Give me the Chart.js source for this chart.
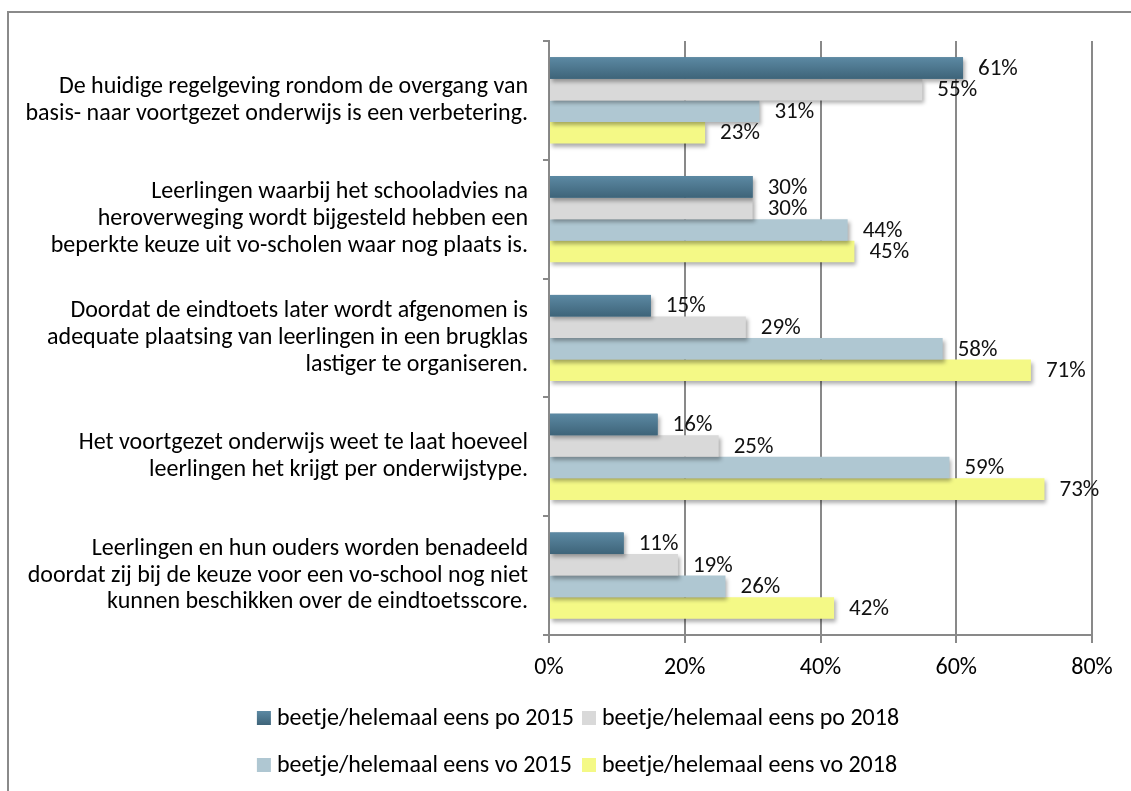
<!DOCTYPE html>
<html>
<head>
<meta charset="utf-8">
<script src="https://cdn.jsdelivr.net/npm/chart.js@4/dist/chart.umd.min.js"></script>
<style>
  html, body { margin: 0; padding: 0; background: #fff; overflow: hidden; }
  canvas { display: block; }
</style>
</head>
<body>
<canvas id="myChart" width="1131" height="791"></canvas>
<script>
// data
const categories = [
  ["De huidige regelgeving rondom de overgang van", "basis- naar voortgezet onderwijs is een verbetering."],
  ["Leerlingen waarbij het schooladvies na", "heroverweging wordt bijgesteld hebben een", "beperkte keuze uit vo-scholen waar nog plaats is."],
  ["Doordat de eindtoets later wordt afgenomen is", "adequate plaatsing van leerlingen in een brugklas", "lastiger te organiseren."],
  ["Het voortgezet onderwijs weet te laat hoeveel", "leerlingen het krijgt per onderwijstype."],
  ["Leerlingen en hun ouders worden benadeeld", "doordat zij bij de keuze voor een vo-school nog niet", "kunnen beschikken over de eindtoetsscore."]
];
const seriesNames = [
  "beetje/helemaal eens po 2015",
  "beetje/helemaal eens po 2018",
  "beetje/helemaal eens vo 2015",
  "beetje/helemaal eens vo 2018"
];
const po2015 = [61, 30, 15, 16, 11];
const po2018 = [55, 30, 29, 25, 19];
const vo2015 = [31, 44, 58, 59, 26];
const vo2018 = [23, 45, 71, 73, 42];
const xTicks = [0, 20, 40, 60, 80];

const colors = ["#4d7891", "#d9d9d9", "#afc7d2", "#f4f986"];
const gridColor = "#898989";
const FONT = "Carlito, Lato, sans-serif";

Chart.defaults.font.family = FONT;
Chart.defaults.color = "#000";

const ctx = document.querySelector("#myChart");

// shadows, gradient on the dark bars, value labels, border and legend
const excelLook = {
  id: "excelLook",
  beforeDraw(chart) {
    const c = chart.ctx;
    c.save();
    c.strokeStyle = "#8a8a8a";
    c.lineWidth = 2;
    c.strokeRect(8, 12, 1400, 1000);
    c.restore();
  },
  beforeDatasetsDraw(chart) {
    const c = chart.ctx;
    c.save();
    c.shadowColor = "rgba(0,0,0,0.32)";
    c.shadowBlur = 4;
    c.shadowOffsetX = 2;
    c.shadowOffsetY = 3;
  },
  afterDatasetDraw(chart, args) {
    if (args.index !== 0) return;
    const c = chart.ctx;
    c.save();
    c.shadowColor = "transparent";
    chart.getDatasetMeta(0).data.forEach(bar => {
      const top = bar.y - bar.height / 2;
      const g = c.createLinearGradient(0, top, 0, top + bar.height);
      g.addColorStop(0, "#5c89a3");
      g.addColorStop(1, "#3e6479");
      c.fillStyle = g;
      c.fillRect(bar.base, top, bar.x - bar.base, bar.height);
    });
    c.restore();
  },
  afterDatasetsDraw(chart) {
    const c = chart.ctx;
    c.restore();
    c.save();
    c.font = "23px " + FONT;
    c.fillStyle = "#111";
    c.textAlign = "left";
    c.textBaseline = "middle";
    chart.data.datasets.forEach((ds, i) => {
      chart.getDatasetMeta(i).data.forEach((bar, j) => {
        c.fillText(ds.data[j] + "%", bar.x + 15, bar.y + 1);
      });
    });
    c.restore();
  },
  afterDraw(chart) {
    const c = chart.ctx;
    const dss = chart.data.datasets;
    c.save();
    c.font = "24px " + FONT;
    c.textBaseline = "middle";
    c.textAlign = "left";
    const box = 14, gap = 6, itemGap = 8;
    const col1 = Math.max(c.measureText(dss[0].label).width, c.measureText(dss[2].label).width);
    const col2 = Math.max(c.measureText(dss[1].label).width, c.measureText(dss[3].label).width);
    const total = box + gap + col1 + itemGap + box + gap + col2;
    const x0 = 578 - total / 2;
    const x1 = x0 + box + gap + col1 + itemGap;
    const rows = [718, 765];
    dss.forEach((ds, i) => {
      const x = i % 2 === 0 ? x0 : x1;
      const y = rows[Math.floor(i / 2)];
      if (i === 0) {
        const g = c.createLinearGradient(0, y - box / 2, 0, y + box / 2);
        g.addColorStop(0, "#5c89a3");
        g.addColorStop(1, "#3e6479");
        c.fillStyle = g;
      } else {
        c.fillStyle = ds.backgroundColor;
      }
      c.fillRect(x, y - box / 2, box, box);
      c.fillStyle = "#000";
      c.fillText(ds.label, x + box + gap, y + 1);
    });
    c.restore();
  }
};

const chart = new Chart(ctx, {
  type: "bar",
  data: {
    labels: categories,
    datasets: [
      { label: seriesNames[0], data: po2015, backgroundColor: colors[0] },
      { label: seriesNames[1], data: po2018, backgroundColor: colors[1] },
      { label: seriesNames[2], data: vo2015, backgroundColor: colors[2] },
      { label: seriesNames[3], data: vo2018, backgroundColor: colors[3] }
    ]
  },
  plugins: [excelLook],
  options: {
    indexAxis: "y",
    responsive: false,
    animation: false,
    barPercentage: 1,
    categoryPercentage: 0.726,
    layout: {
      padding: { top: 41, right: 39, bottom: 106, left: 0 }
    },
    plugins: {
      legend: { display: false },
      tooltip: { enabled: false }
    },
    scales: {
      x: {
        min: xTicks[0],
        max: xTicks[xTicks.length - 1],
        afterBuildTicks(scale) {
          scale.ticks = xTicks.map(v => ({ value: v }));
        },
        afterFit(scale) { scale.height = 50; },
        grid: {
          color: gridColor,
          lineWidth: 2,
          tickLength: 8,
          drawTicks: true
        },
        border: { color: gridColor, width: 2 },
        ticks: {
          padding: 11,
          maxRotation: 0,
          font: { size: 24 },
          color: "#000",
          callback: v => v + "%"
        }
      },
      y: {
        afterFit(scale) {
          scale.width = 549;
          scale.paddingTop = 0;
          scale.paddingBottom = 0;
        },
        grid: {
          offset: true,
          drawOnChartArea: false,
          drawTicks: true,
          tickLength: 6,
          color: gridColor,
          lineWidth: 2
        },
        border: { color: gridColor, width: 2 },
        ticks: {
          autoSkip: false,
          padding: 15,
          font: { size: 24, lineHeight: 1.12 },
          color: "#000"
        }
      }
    }
  }
});
</script>
</body>
</html>
